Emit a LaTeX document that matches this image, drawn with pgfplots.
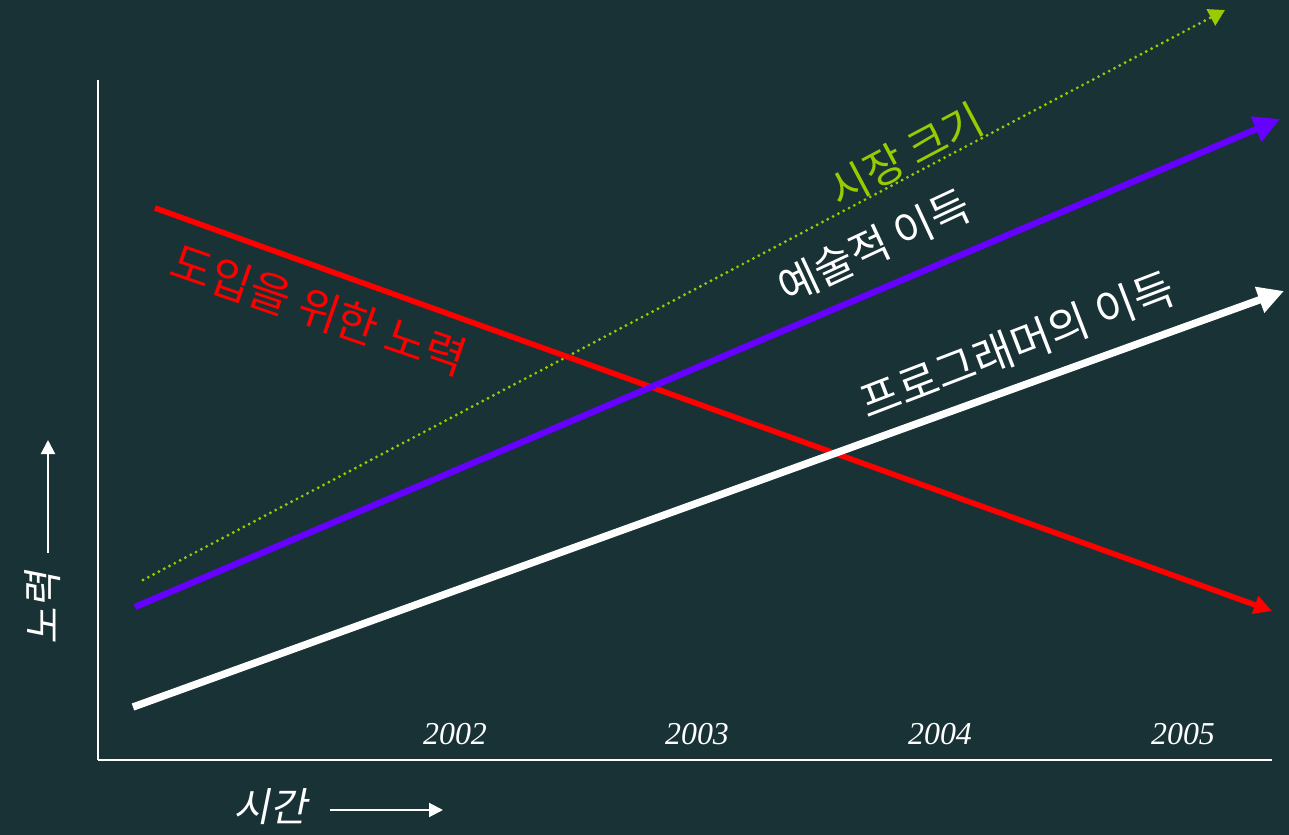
\documentclass[border=0pt]{standalone}
\usepackage{pgfplots}
\pgfplotsset{compat=1.18}
\usetikzlibrary{arrows.meta}
\usepackage{fontspec}
\setmainfont{Liberation Serif}
\newfontfamily\kr{Noto Sans CJK KR}
\newfontfamily\krs[FakeSlant=0.2]{Noto Sans CJK KR}
\definecolor{bg}{RGB}{24,50,53}
\definecolor{vio}{RGB}{102,0,255}
\definecolor{lime}{RGB}{153,204,0}
\begin{document}
\begin{tikzpicture}
\fill[bg] (0,0) rectangle (644.5bp,417.5bp);
\useasboundingbox (0,0) rectangle (644.5bp,417.5bp);
\begin{axis}[at={(49bp,37.5bp)}, anchor=south west, scale only axis,
  width=587bp, height=340bp, xmin=98, xmax=1272, ymin=0, ymax=680,
  clip=false, axis x line=bottom, axis y line=left,
  axis line style={white, line width=1bp, -},
  ytick=\empty, xtick={455,697,940,1183},
  xticklabels={2002,2003,2004,2005}, major tick length=0pt,
  xticklabel style={font=\fontsize{16}{18}\selectfont\itshape, text=white, anchor=center, yshift=13bp}]
\addplot[lime, line width=1.6bp, line cap=round, dash pattern=on 0pt off 3bp,
  -{Triangle[length=8bp,width=9bp]}] coordinates {(143,180) (1225,750)};
\addplot[red, line width=2.8bp, -{Triangle[length=9bp,width=9bp]}] coordinates {(155,552) (1272,149)};
\addplot[vio, line width=3.2bp, -{Triangle[length=13bp,width=13bp]}] coordinates {(135,153) (1280,641)};
\addplot[white, line width=3.7bp, -{Triangle[length=13bp,width=13bp]}] coordinates {(133,53) (1284,469)};
\node[rotate=28, text=lime, font=\kr\fontsize{21.5}{24}\selectfont] at (axis cs:906,605) {시장 크기};
\node[rotate=25, text=white, font=\kr\fontsize{21.5}{24}\selectfont] at (axis cs:874,514) {예술적 이득};
\node[rotate=21, text=white, font=\kr\fontsize{22}{24}\selectfont] at (axis cs:1017,415) {프로그래머의 이득};
\node[rotate=-19, text=red, font=\kr\fontsize{22.5}{24}\selectfont] at (axis cs:319,450) {도입을 위한 노력};
\node[rotate=90, text=white, font=\krs\fontsize{20}{24}\selectfont] at (axis cs:43,152) {노력};
\draw[white, line width=1bp, -{Triangle[length=7bp,width=7bp]}] (axis cs:48,207) -- (axis cs:48,320);
\node[text=white, font=\krs\fontsize{20}{24}\selectfont] at (axis cs:270,-47) {시간};
\draw[white, line width=1bp, -{Triangle[length=7bp,width=7bp]}] (axis cs:330,-50) -- (axis cs:443,-50);
\end{axis}
\end{tikzpicture}
\end{document}
